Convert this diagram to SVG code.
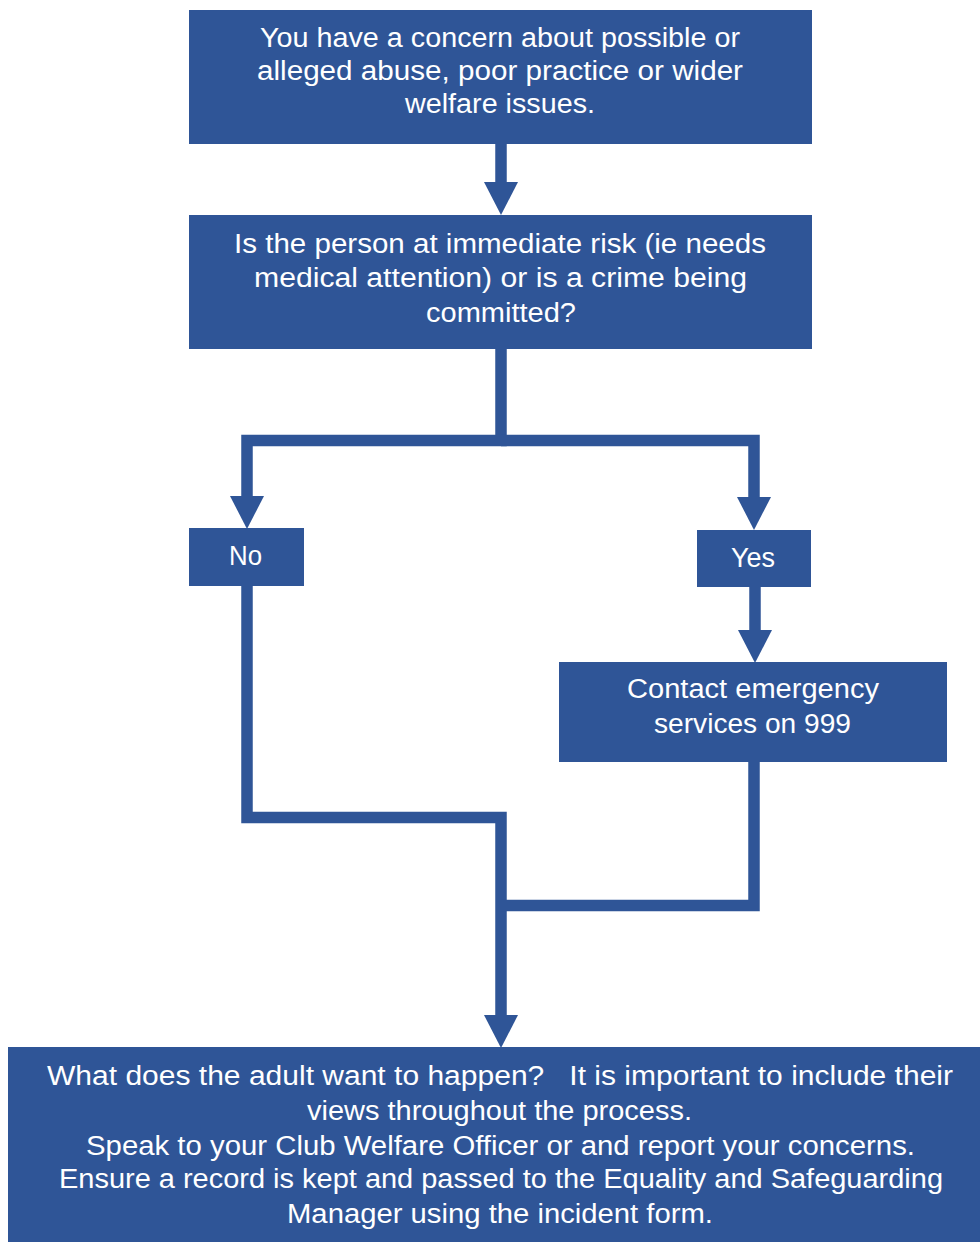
<svg xmlns="http://www.w3.org/2000/svg" width="980" height="1242" viewBox="0 0 980 1242">
<style>
.box{fill:#2f5597;}
.t{font-family:"Liberation Sans","DejaVu Sans",sans-serif;font-size:27px;fill:#ffffff;}
.c{fill:none;stroke:#2f5597;stroke-width:11.5;stroke-linejoin:miter;}
</style>
<defs>
<marker id="ah" markerUnits="userSpaceOnUse" viewBox="0 -17 33 34" refX="0" refY="0" markerWidth="33" markerHeight="34" orient="auto">
<path d="M0,-17 L33,0 L0,17 z" fill="#2f5597"/>
</marker>
</defs>
<g id="connectors">
<path class="c" d="M501,144 V182" marker-end="url(#ah)"/>
<path class="c" d="M501,349 V440.5 H247 V496" marker-end="url(#ah)"/>
<path class="c" d="M501,440.5 H754 V497" marker-end="url(#ah)"/>
<path class="c" d="M755,587 V630" marker-end="url(#ah)"/>
<path class="c" d="M247,586 V817.5 H501 V1015" marker-end="url(#ah)"/>
<path class="c" d="M754,762 V905.5 H501"/>
</g>
<g id="n1">
<rect class="box" x="189" y="10" width="623" height="134"/>
<text class="t" x="260" y="47" textLength="480" lengthAdjust="spacingAndGlyphs">You have a concern about possible or</text>
<text class="t" x="257" y="80" textLength="486" lengthAdjust="spacingAndGlyphs">alleged abuse, poor practice or wider</text>
<text class="t" x="405" y="113" textLength="190" lengthAdjust="spacingAndGlyphs">welfare issues.</text>
</g>
<g id="n2">
<rect class="box" x="189" y="215" width="623" height="134"/>
<text class="t" x="234" y="253" textLength="532" lengthAdjust="spacingAndGlyphs">Is the person at immediate risk (ie needs</text>
<text class="t" x="254" y="287" textLength="493" lengthAdjust="spacingAndGlyphs">medical attention) or is a crime being</text>
<text class="t" x="426" y="322" textLength="150" lengthAdjust="spacingAndGlyphs">committed?</text>
</g>
<g id="no">
<rect class="box" x="189" y="528" width="115" height="58"/>
<text class="t" x="229" y="565" textLength="33" lengthAdjust="spacingAndGlyphs">No</text>
</g>
<g id="yes">
<rect class="box" x="697" y="530" width="114" height="57"/>
<text class="t" x="731" y="567" textLength="44" lengthAdjust="spacingAndGlyphs">Yes</text>
</g>
<g id="emergency">
<rect class="box" x="559" y="662" width="388" height="100"/>
<text class="t" x="627" y="698" textLength="252" lengthAdjust="spacingAndGlyphs">Contact emergency</text>
<text class="t" x="654" y="733" textLength="197" lengthAdjust="spacingAndGlyphs">services on 999</text>
</g>
<g id="final">
<rect class="box" x="8" y="1047" width="972" height="195"/>
<text class="t" x="47" y="1085" textLength="906" lengthAdjust="spacingAndGlyphs">What does the adult want to happen?&#160;&#160; It is important to include their</text>
<text class="t" x="307" y="1120" textLength="385" lengthAdjust="spacingAndGlyphs">views throughout the process.</text>
<text class="t" x="86" y="1155" textLength="829" lengthAdjust="spacingAndGlyphs">Speak to your Club Welfare Officer or and report your concerns.</text>
<text class="t" x="59" y="1188" textLength="884" lengthAdjust="spacingAndGlyphs">Ensure a record is kept and passed to the Equality and Safeguarding</text>
<text class="t" x="287" y="1223" textLength="426" lengthAdjust="spacingAndGlyphs">Manager using the incident form.</text>
</g>
</svg>
